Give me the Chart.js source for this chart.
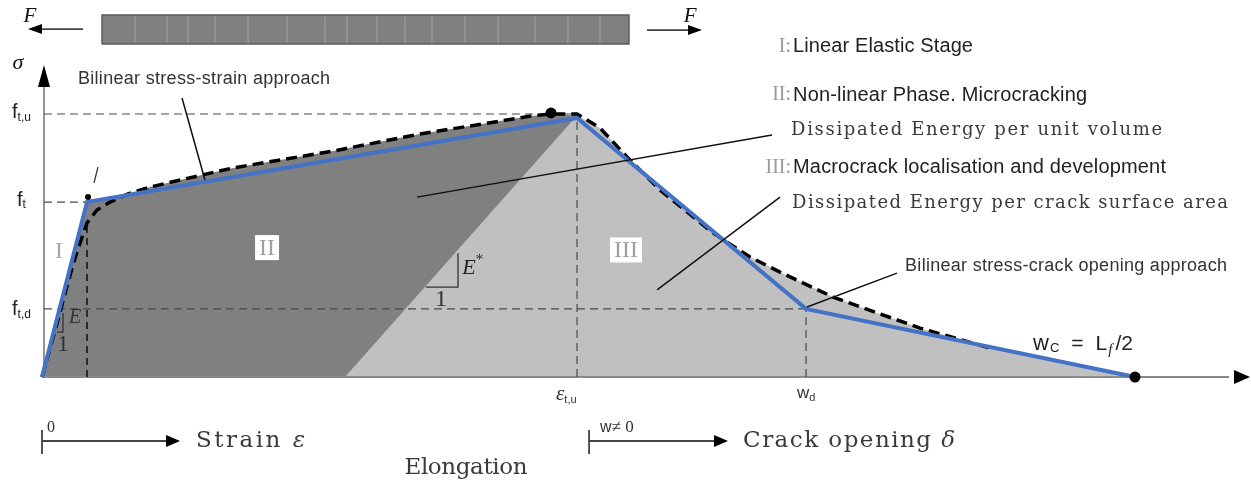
<!DOCTYPE html>
<html>
<head>
<meta charset="utf-8">
<script src="https://cdn.jsdelivr.net/npm/chart.js@4/dist/chart.umd.min.js"></script>
<style>
  html, body { margin: 0; padding: 0; background: #fff; }
  canvas { display: block; }
</style>
</head>
<body>
<canvas id="c" width="1251" height="482"></canvas>
<script>
// Units: x in % of the critical crack opening w_c, y in % of the peak strength f_t,u
const X_RANGE = [-3.843, 110.61];
const Y_RANGE = [-39.92, 143.35];

// Characteristic values
const EPS_T = 4.12, EPS_TU = 48.95, W_D = 69.9, W_C = 100;
const F_T = 66.5, F_TU = 100, F_TD = 25.9;

// Bilinear model (stress-strain branch + stress-crack opening branch)
const bilinearX = [0, EPS_T, EPS_TU, W_D, W_C];
const bilinearY = [0, F_T, 98.5, F_TD, 0];

// Measured response (dashed envelope)
const curveX = [0, 1.46, 2.38, 3.02, 3.48, 4.12, 5.03, 6.22, 7.87, 9.88, 12.63, 17.47, 26.62, 34.58, 41.90, 44.65, 46.57, 48.95,
                51.05, 53.52, 56.54, 61.39, 64.78, 67.52, 72.37, 76.67, 80.33, 86.73];
const curveY = [0, 21.7, 36.1, 45.2, 51.0, 58.6, 63.5, 66.5, 69.6, 72.2, 74.9, 79.5, 85.9, 92.4, 97.3, 99.2, 100, 100,
                94.7, 83.7, 71.1, 54.8, 45.6, 39.9, 30.4, 24.0, 18.6, 11.0];

// Energy regions
const stage2X = [0, EPS_T, 7.87, 9.88, 12.63, 17.47, 26.62, 34.58, 41.90, 44.65, 46.57, EPS_TU];
const stage2Y = [0, F_T, 69.6, 72.2, 74.9, 79.5, 85.9, 92.4, 97.3, 99.2, 100, 99.4];
const stage3X = [27.72, EPS_TU, 51.05, 53.52, 56.54, 61.39, 64.78, 67.52, 72.37, 76.67, 80.33, 86.73, W_C];
const stage3Y = [0, 99.4, 94.7, 83.7, 71.1, 54.8, 45.6, 39.9, 30.4, 24.0, 18.6, 11.0, 0];

// Specimen under tension and its micro-cracks
const specimenX = [5.49, 53.70];
const specimenY = [126.6, 137.6];
const crackX = [8.51, 11.44, 13.36, 15.83, 18.85, 22.42, 25.89, 27.90, 30.65, 33.21, 35.68, 38.70, 41.72, 45.10, 48.12, 51.05];

// Marked points
const markX = [46.57, W_C, 4.21];
const markY = [100.4, 0, 68.4];

const SANS = '"Liberation Sans", Arial, sans-serif';
const SERIF = '"Liberation Serif", "Times New Roman", serif';
const WIDE_SERIF = '"DejaVu Serif", "Liberation Serif", serif';

const pts = (xs, ys) => xs.map((x, i) => ({ x, y: ys[i] }));
// polyline list -> one point list with gaps between pieces
const pieces = list => {
  const out = [];
  list.forEach((p, i) => {
    for (let k = 0; k < p.length; k += 2) out.push({ x: p[k], y: p[k + 1] });
    if (i < list.length - 1) out.push({ x: p[0], y: null });
  });
  return out;
};
const line = (data, color, width, order, extra) => Object.assign({
  data, borderColor: color, borderWidth: width, pointRadius: 0, fill: false,
  tension: 0, order, borderCapStyle: 'butt', borderJoinStyle: 'miter'
}, extra || {});

const guides = pieces([
  [0.18, F_TU, EPS_TU, F_TU],
  [0.18, F_T, EPS_T, F_T],
  [0.18, F_TD, W_D, F_TD],
  [EPS_TU, 0, EPS_TU, 98.5],
  [W_D, 0, W_D, F_TD]
]);
const kneeGuide = pieces([[EPS_T, 0, EPS_T, 58.6]]);
const axes = pieces([[0.18, 0, 0.18, 112], [0, 0, 108.6, 0]]);
const leaders = pieces([
  [12.81, 106.1, 14.91, 74.9],
  [66.79, 92.0, 34.31, 68.4],
  [67.52, 68.4, 56.27, 33.1],
  [78.22, 39.5, 69.99, 26.6]
]);
const slopes = pieces([
  [1.37, 17.1, 1.92, 17.1, 1.92, 24.3],
  [35.13, 34.2, 38.06, 34.2, 38.06, 47.1],
  [4.76, 73.8, 5.12, 79.8]
]);
const shafts = pieces([
  [3.75, 132.3, -0.6, 132.3],
  [55.35, 131.9, 59.6, 131.9],
  [0, -24.33, 12.0, -24.33],
  [0, -20.15, 0, -29.28],
  [50.05, -24.33, 62.1, -24.33],
  [50.05, -20.15, 50.05, -29.28]
]);
const cracks = pieces(crackX.map(x => [x, specimenY[0] + 0.4, x, specimenY[1] - 0.4]));
const outline = pts(
  [specimenX[0], specimenX[1], specimenX[1], specimenX[0], specimenX[0]],
  [specimenY[0], specimenY[0], specimenY[1], specimenY[1], specimenY[0]]
);

// Arrow heads: tip, direction, length (px), half width (px)
const arrowHeads = [
  { x: 0.18, y: 118.6, dir: 'up', len: 22, half: 6 },
  { x: 110.52, y: 0, dir: 'right', len: 16, half: 7 },
  { x: -1.28, y: 132.3, dir: 'left', len: 14, half: 5 },
  { x: 60.38, y: 131.9, dir: 'right', len: 14, half: 5 },
  { x: 12.63, y: -24.33, dir: 'right', len: 14, half: 6 },
  { x: 62.76, y: -24.33, dir: 'right', len: 14, half: 6 }
];

const sub = (t, size, dy) => ({ t, font: size + 'px ' + SANS, dy });
const labels = [
  { text: 'F', x: -1.10, y: 136.9, font: 'italic 21px ' + SERIF, align: 'center', color: '#111' },
  { text: 'F', x: 59.29, y: 136.9, font: 'italic 21px ' + SERIF, align: 'center', color: '#111' },
  { text: 'σ', x: -2.20, y: 119.4, font: 'italic 22px ' + SERIF, align: 'center', color: '#111' },
  { text: 'Bilinear stress-strain approach', x: 3.29, y: 113.3, w: 23.06, font: '18px ' + SANS, color: '#333' },
  { parts: [{ t: 'f', font: '20px ' + SANS }, sub('t,u', 12, 5)], x: -2.74, y: 100.4 },
  { parts: [{ t: 'f', font: '20px ' + SANS }, sub('t', 12, 5)], x: -2.29, y: 67.3 },
  { parts: [{ t: 'f', font: '20px ' + SANS }, sub('t,d', 12, 5)], x: -2.74, y: 25.5 },
  { text: 'I', x: 1.56, y: 47.5, font: '24px ' + SERIF, align: 'center', color: '#a8a8a8' },
  { text: 'E', x: 3.02, y: 22.4, font: 'italic 20px ' + SERIF, align: 'center', color: '#333' },
  { text: '1', x: 1.92, y: 12.2, font: '24px ' + SERIF, align: 'center', color: '#333' },
  { parts: [{ t: 'E', font: 'italic 22px ' + SERIF }, { t: '*', font: '15px ' + SERIF, dy: -8 }], x: 38.45, y: 41.4, color: '#222' },
  { text: '1', x: 36.50, y: 29.3, font: '24px ' + SERIF, align: 'center', color: '#333' },

  { text: 'I:', x: 68.53, y: 125.5, font: '20px ' + SERIF, align: 'right', color: '#9a9a9a' },
  { text: 'Linear Elastic Stage', x: 68.71, y: 125.5, w: 16.47, font: '20px ' + SANS },
  { text: 'II:', x: 68.53, y: 107.2, font: '20px ' + SERIF, align: 'right', color: '#9a9a9a' },
  { text: 'Non-linear Phase. Microcracking', x: 68.71, y: 107.2, w: 26.90, font: '20px ' + SANS },
  { text: 'Dissipated Energy per unit volume', x: 68.53, y: 93.9, w: 33.94, font: '18px ' + WIDE_SERIF, color: '#3a3a3a' },
  { text: 'III:', x: 68.53, y: 79.5, font: '20px ' + SERIF, align: 'right', color: '#9a9a9a' },
  { text: 'Macrocrack localisation and development', x: 68.71, y: 79.5, w: 34.13, font: '20px ' + SANS },
  { text: 'Dissipated Energy per crack surface area', x: 68.62, y: 66.2, w: 39.89, font: '18px ' + WIDE_SERIF, color: '#3a3a3a' },
  { text: 'Bilinear stress-crack opening approach', x: 78.96, y: 42.2, w: 29.46, font: '18px ' + SANS, color: '#333' },
  { parts: [
      { t: 'w', font: '22px ' + SANS }, { t: 'C', font: '13px ' + SANS, dy: 4, pad: 1 },
      { t: '=', font: '21px ' + SANS, pad: 12 }, { t: 'L', font: '21px ' + SANS, pad: 12 },
      { t: 'f', font: 'italic 15px ' + SERIF, dy: 6, pad: 1 }, { t: '/2', font: '21px ' + SANS, pad: 3 }
    ], x: 90.67, y: 12.5, color: '#222' },
  { parts: [{ t: 'ε', font: 'italic 21px ' + SERIF }, sub('t,u', 11, 6)], x: 47.03, y: -6.46, color: '#333' },
  { parts: [{ t: 'w', font: '17px ' + SANS }, sub('d', 11, 5)], x: 69.08, y: -6.08, color: '#333' },
  { text: '0', x: 0.46, y: -19.39, font: '16px ' + SERIF, color: '#333' },
  { parts: [{ t: 'w', font: '16px ' + SANS }, { t: '≠ 0', font: '17px ' + SERIF }], x: 51.05, y: -19.39, color: '#333' },
  { parts: [{ t: 'Strain ', font: '23px ' + WIDE_SERIF }, { t: 'ε', font: 'italic 23px ' + WIDE_SERIF }], x: 14.09, y: -24.33, w: 9.97, color: '#3a3a3a' },
  { parts: [{ t: 'Crack opening ', font: '23px ' + WIDE_SERIF }, { t: 'δ', font: 'italic 23px ' + WIDE_SERIF }], x: 64.14, y: -24.33, w: 19.40, color: '#3a3a3a' },
  { text: 'Elongation', x: 38.79, y: -34.60, w: 11.25, font: '23px ' + WIDE_SERIF, align: 'center', color: '#3a3a3a' }
];

// Boxed stage numerals inside the regions
const stageBoxes = [
  { text: 'II', x: 20.59, y: 49.2 },
  { text: 'III', x: 53.43, y: 48.3 }
];

const annotate = {
  id: 'annotate',
  afterDatasetsDraw(chart) {
    const ctx = chart.ctx, sx = chart.scales.x, sy = chart.scales.y;
    const X = v => sx.getPixelForValue(v), Y = v => sy.getPixelForValue(v);

    // arrow heads
    ctx.save();
    ctx.fillStyle = '#000';
    arrowHeads.forEach(a => {
      const px = X(a.x), py = Y(a.y);
      ctx.beginPath();
      if (a.dir === 'up') { ctx.moveTo(px, py); ctx.lineTo(px - a.half, py + a.len); ctx.lineTo(px + a.half, py + a.len); }
      if (a.dir === 'right') { ctx.moveTo(px, py); ctx.lineTo(px - a.len, py - a.half); ctx.lineTo(px - a.len, py + a.half); }
      if (a.dir === 'left') { ctx.moveTo(px, py); ctx.lineTo(px + a.len, py - a.half); ctx.lineTo(px + a.len, py + a.half); }
      ctx.closePath();
      ctx.fill();
    });
    ctx.restore();

    // stage boxes
    stageBoxes.forEach(b => {
      ctx.save();
      ctx.font = '24px ' + SERIF;
      const w = ctx.measureText(b.text).width + 8, h = 25;
      const px = X(b.x), py = Y(b.y);
      ctx.fillStyle = '#fff';
      ctx.fillRect(px - w / 2, py - h / 2, w, h);
      ctx.fillStyle = '#a0a0a0';
      ctx.textAlign = 'center';
      ctx.textBaseline = 'middle';
      ctx.fillText(b.text, px, py + 1);
      ctx.restore();
    });

    // text
    labels.forEach(L => {
      ctx.save();
      ctx.textBaseline = 'middle';
      ctx.textAlign = 'left';
      const px = X(L.x), py = Y(L.y);
      const parts = L.parts || [{ t: L.text, font: L.font }];
      const target = L.w != null ? X(L.x + L.w) - px : null;
      let ls = 0;
      const natural = parts.map(p => { ctx.font = p.font; ctx.letterSpacing = '0px'; return ctx.measureText(p.t).width; });
      if (target) {
        const n = parts.reduce((s, p) => s + [...p.t].length, 0);
        const tot = natural.reduce((s, v) => s + v, 0);
        ls = (target - tot) / Math.max(1, n - 1);
      }
      const widths = parts.map((p, i) => natural[i] + (ls ? [...p.t].length * ls : 0) + (p.pad || 0));
      const total = widths.reduce((s, v) => s + v, 0) - (ls || 0);
      let x = px;
      if (L.align === 'center') x = px - total / 2;
      if (L.align === 'right') x = px - total;
      parts.forEach((p, i) => {
        ctx.font = p.font;
        ctx.letterSpacing = ls ? ls.toFixed(2) + 'px' : '0px';
        ctx.fillStyle = p.color || L.color || '#222';
        ctx.fillText(p.t, x + (p.pad || 0), py + (p.dy || 0));
        x += widths[i];
      });
      ctx.restore();
    });
  }
};

new Chart(document.getElementById('c'), {
  type: 'line',
  data: {
    datasets: [
      line(pts(markX, markY), '#000', 0, 0, {
        showLine: false, pointRadius: [5.5, 5.5, 3], pointBackgroundColor: '#000', pointBorderWidth: 0
      }),
      line(leaders, '#111', 1.5, 0),
      line(pts(bilinearX, bilinearY), '#4472c4', 4, 1),
      line(pts(curveX, curveY), '#000', 3.5, 2, { borderDash: [11, 6] }),
      line(slopes, '#333', 1.3, 2),
      line(kneeGuide, '#222', 1.8, 3, { borderDash: [7, 5] }),
      line(guides, '#4a4a4a', 1.2, 3, { borderDash: [8, 5] }),
      line(axes, '#8a8a8a', 1.8, 4),
      line(shafts, '#444', 1.8, 4),
      line(outline, '#5a5a5a', 1.5, 4),
      line(cracks, 'rgba(175,175,175,0.75)', 1, 5),
      line(pts(specimenX, [specimenY[1], specimenY[1]]), 'rgba(0,0,0,0)', 0, 6, {
        fill: { value: specimenY[0] }, backgroundColor: '#808080'
      }),
      line(pts(stage3X, stage3Y), 'rgba(0,0,0,0)', 0, 7, { fill: 'origin', backgroundColor: '#c0c0c0' }),
      line(pts(stage2X, stage2Y), 'rgba(0,0,0,0)', 0, 8, { fill: 'origin', backgroundColor: '#808080' })
    ]
  },
  options: {
    responsive: false,
    animation: false,
    events: [],
    layout: { padding: 0, autoPadding: false },
    plugins: { legend: { display: false }, tooltip: { enabled: false } },
    scales: {
      x: { type: 'linear', min: X_RANGE[0], max: X_RANGE[1], display: false },
      y: { type: 'linear', min: Y_RANGE[0], max: Y_RANGE[1], display: false }
    }
  },
  plugins: [annotate]
});
</script>
</body>
</html>
